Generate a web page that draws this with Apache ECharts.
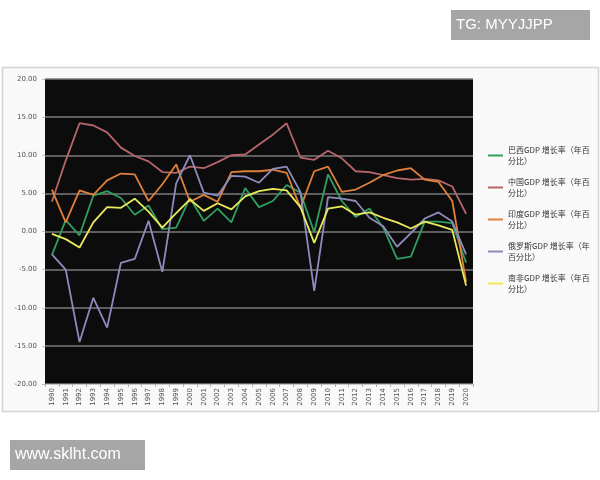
<!DOCTYPE html>
<html>
<head>
<meta charset="utf-8">
<script src="https://cdn.jsdelivr.net/npm/echarts@6/dist/echarts.min.js"></script>
<style>
html,body{margin:0;padding:0;background:#fff;}
#main{width:600px;height:480px;}
</style>
</head>
<body>
<div id="main"></div>
<script>
var years = ['1990','1991','1992','1993','1994','1995','1996','1997','1998','1999','2000','2001','2002','2003','2004','2005','2006','2007','2008','2009','2010','2011','2012','2013','2014','2015','2016','2017','2018','2019','2020'];
var seriesNames = ['巴西GDP 增长率（年百分比）','中国GDP 增长率（年百分比）','印度GDP 增长率（年百分比）','俄罗斯GDP 增长率（年百分比）','南非GDP 增长率（年百分比）'];
var brazil = [-3.1, 1.5, -0.5, 4.7, 5.3, 4.4, 2.2, 3.4, 0.3, 0.5, 4.4, 1.4, 3.0, 1.2, 5.7, 3.2, 4.0, 6.1, 5.1, -0.1, 7.5, 4.0, 1.9, 3.0, 0.5, -3.6, -3.3, 1.3, 1.3, 1.1, -4.1];
var china = [3.9, 9.3, 14.2, 13.9, 13.0, 11.0, 9.9, 9.2, 7.8, 7.7, 8.5, 8.3, 9.1, 10.0, 10.1, 11.4, 12.7, 14.2, 9.7, 9.4, 10.6, 9.6, 7.9, 7.8, 7.4, 7.0, 6.8, 6.9, 6.7, 5.9, 2.3];
var india = [5.5, 1.2, 5.4, 4.8, 6.7, 7.6, 7.5, 4.0, 6.2, 8.8, 3.9, 4.8, 3.9, 7.8, 7.9, 7.9, 8.1, 7.7, 3.1, 7.9, 8.5, 5.2, 5.5, 6.4, 7.4, 8.0, 8.3, 6.8, 6.5, 4.0, -6.6];
var russia = [-3.0, -5.0, -14.5, -8.7, -12.6, -4.1, -3.6, 1.4, -5.3, 6.3, 10.0, 5.1, 4.7, 7.3, 7.2, 6.4, 8.2, 8.5, 5.2, -7.8, 4.5, 4.3, 4.0, 1.8, 0.7, -2.0, -0.2, 1.7, 2.5, 1.3, -3.0];
var southAfrica = [-0.3, -1.0, -2.1, 1.2, 3.2, 3.1, 4.3, 2.6, 0.5, 2.4, 4.2, 2.7, 3.7, 2.9, 4.6, 5.3, 5.6, 5.4, 3.2, -1.5, 3.0, 3.3, 2.2, 2.5, 1.8, 1.2, 0.4, 1.3, 0.8, 0.2, -7.1];
var legendLabels = {
  '巴西GDP 增长率（年百分比）': '巴西GDP 增长率（年百\n分比）',
  '中国GDP 增长率（年百分比）': '中国GDP 增长率（年百\n分比）',
  '印度GDP 增长率（年百分比）': '印度GDP 增长率（年百\n分比）',
  '俄罗斯GDP 增长率（年百分比）': '俄罗斯GDP 增长率（年\n百分比）',
  '南非GDP 增长率（年百分比）': '南非GDP 增长率（年百\n分比）'
};
var colors = ['#2f9e60', '#b7676c', '#e0803b', '#8d8bbd', '#eaea5c'];
var seriesData = [brazil, china, india, russia, southAfrica];

var chart = echarts.init(document.getElementById('main'), null, {renderer: 'canvas'});
var FONT = '"Noto Sans CJK SC", "Noto Sans", sans-serif';
var option = {
  animation: false,
  backgroundColor: '#ffffff',
  color: colors,
  graphic: [
    {type: 'rect', z: -10, silent: true, shape: {x: 2.5, y: 67.5, width: 596, height: 344}, style: {fill: '#f9f9f9', stroke: '#d4d4d4', lineWidth: 1.5}},
    {type: 'rect', silent: true, shape: {x: 451, y: 10, width: 139, height: 30}, style: {fill: '#a6a6a6'}},
    {type: 'text', silent: true, x: 456, y: 25, style: {text: 'TG: MYYJJPP', fill: '#ffffff', font: '15px "Liberation Sans", Arial, sans-serif', verticalAlign: 'middle'}},
    {type: 'rect', silent: true, shape: {x: 10, y: 440, width: 135, height: 30}, style: {fill: '#a6a6a6'}},
    {type: 'text', silent: true, x: 15, y: 455, style: {text: 'www.sklht.com', fill: '#ffffff', font: '16px "Liberation Sans", Arial, sans-serif', verticalAlign: 'middle'}}
  ],
  grid: {left: 45, right: 127, top: 79, bottom: 96, show: true, backgroundColor: '#0c0c0c', borderWidth: 0},
  legend: {
    orient: 'vertical',
    left: 488,
    top: 139,
    padding: 0,
    itemGap: -1,
    itemWidth: 15,
    itemHeight: 2,
    icon: 'rect',
    data: seriesNames,
    formatter: function (name) { return legendLabels[name]; },
    textStyle: {fontSize: 8, lineHeight: 11, color: '#333', fontFamily: FONT, padding: [11, 0, 0, 0]}
  },
  xAxis: {
    type: 'category',
    data: years,
    boundaryGap: true,
    axisLine: {show: true, onZero: false, lineStyle: {color: '#c8c8c8', width: 1}},
    axisTick: {show: true, length: 3, lineStyle: {color: '#b0b0b0'}},
    axisLabel: {rotate: 90, fontSize: 7, color: '#555', margin: 4, interval: 0, fontFamily: '"DejaVu Sans", sans-serif'},
    splitLine: {show: false}
  },
  yAxis: {
    type: 'value',
    min: -20,
    max: 20,
    interval: 5,
    axisLine: {show: false},
    axisTick: {show: true, length: 3, lineStyle: {color: '#c0c0c0'}},
    axisLabel: {fontSize: 7, color: '#555', margin: 8, fontFamily: '"DejaVu Sans", sans-serif', formatter: function (v) { return v.toFixed(2); }},
    splitLine: {show: true, lineStyle: {color: '#7a7a7a', width: 1.5}}
  },
  series: seriesNames.map(function (n, i) {
    return {
      name: n,
      type: 'line',
      data: seriesData[i],
      symbol: 'none',
      lineStyle: {width: 1.8, color: colors[i]},
      itemStyle: {color: colors[i]}
    };
  })
};
chart.setOption(option);
</script>
</body>
</html>
